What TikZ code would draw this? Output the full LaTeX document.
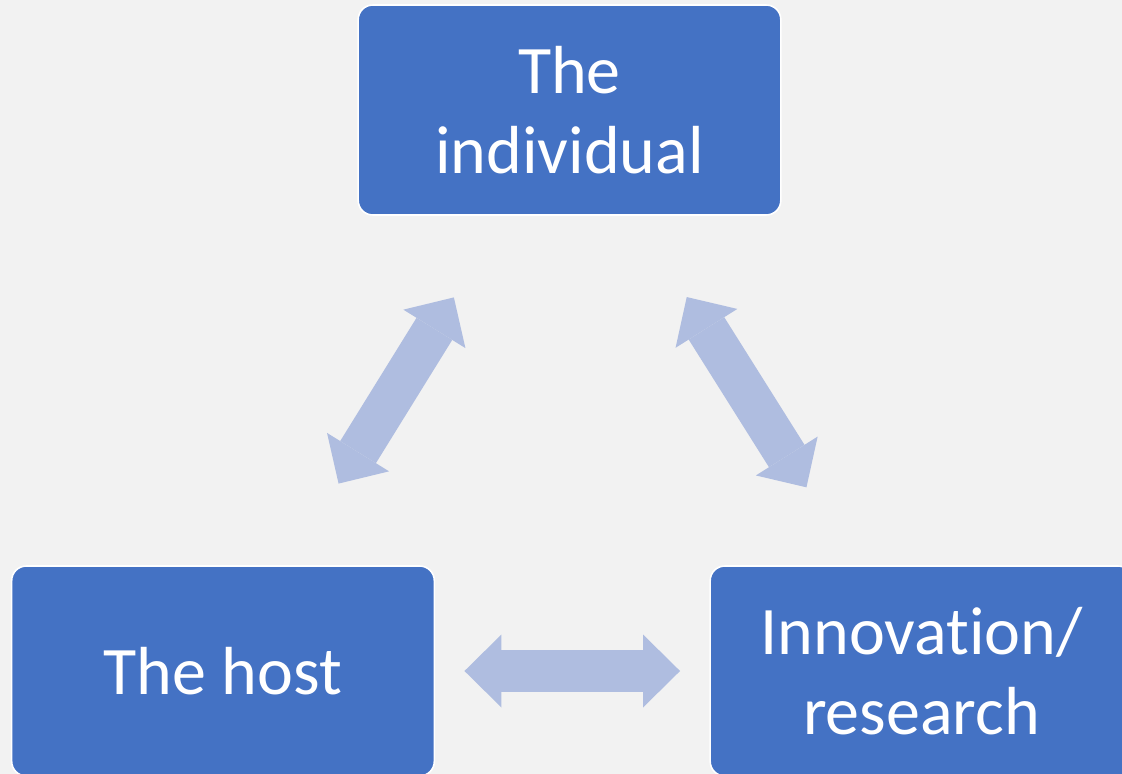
\documentclass[tikz,border=0pt]{standalone}
\usepackage{fontspec}
\setmainfont[Ligatures=NoCommon]{Carlito}
\usetikzlibrary{arrows.meta}
\definecolor{bg}{HTML}{F2F2F2}
\definecolor{boxblue}{HTML}{4472C4}
\definecolor{arrowblue}{RGB}{175,189,224}
\tikzset{
  box/.style={draw=white, line width=1.2pt, fill=boxblue, rounded corners=11pt,
    minimum width=317pt, minimum height=157.5pt, text=white, align=center,
    font=\fontsize{51pt}{60pt}\selectfont, inner sep=0pt},
  blockarrow/.style={draw=arrowblue, line width=31.5pt, line cap=butt,
    {Triangle[length=27.75pt 0 0, width=54.75pt 0 0, line width=0pt, fill=arrowblue]}-{Triangle[length=27.75pt 0 0, width=54.75pt 0 0, line width=0pt, fill=arrowblue]}}
}
\begin{document}
\begin{tikzpicture}[x=0.75pt,y=-0.75pt]
\useasboundingbox (0,0) rectangle (1122,774);
\clip (0,0) rectangle (1122,774);
\fill[bg] (0,0) rectangle (1122,774);
\node[box] (ind) at (569.5,110) {The\\individual};
\node[box] (host) at (223,671) {The host};
\node[box] (inn) at (921.5,671) {Innovation/\\research};
\draw[blockarrow, shorten <=72pt, shorten >=72pt] (ind) -- (host);
\draw[blockarrow, shorten <=72pt, shorten >=69pt] (ind) -- (inn);
\draw[blockarrow, shorten <=22pt, shorten >=22pt] (host) -- (inn);
\end{tikzpicture}
\end{document}
